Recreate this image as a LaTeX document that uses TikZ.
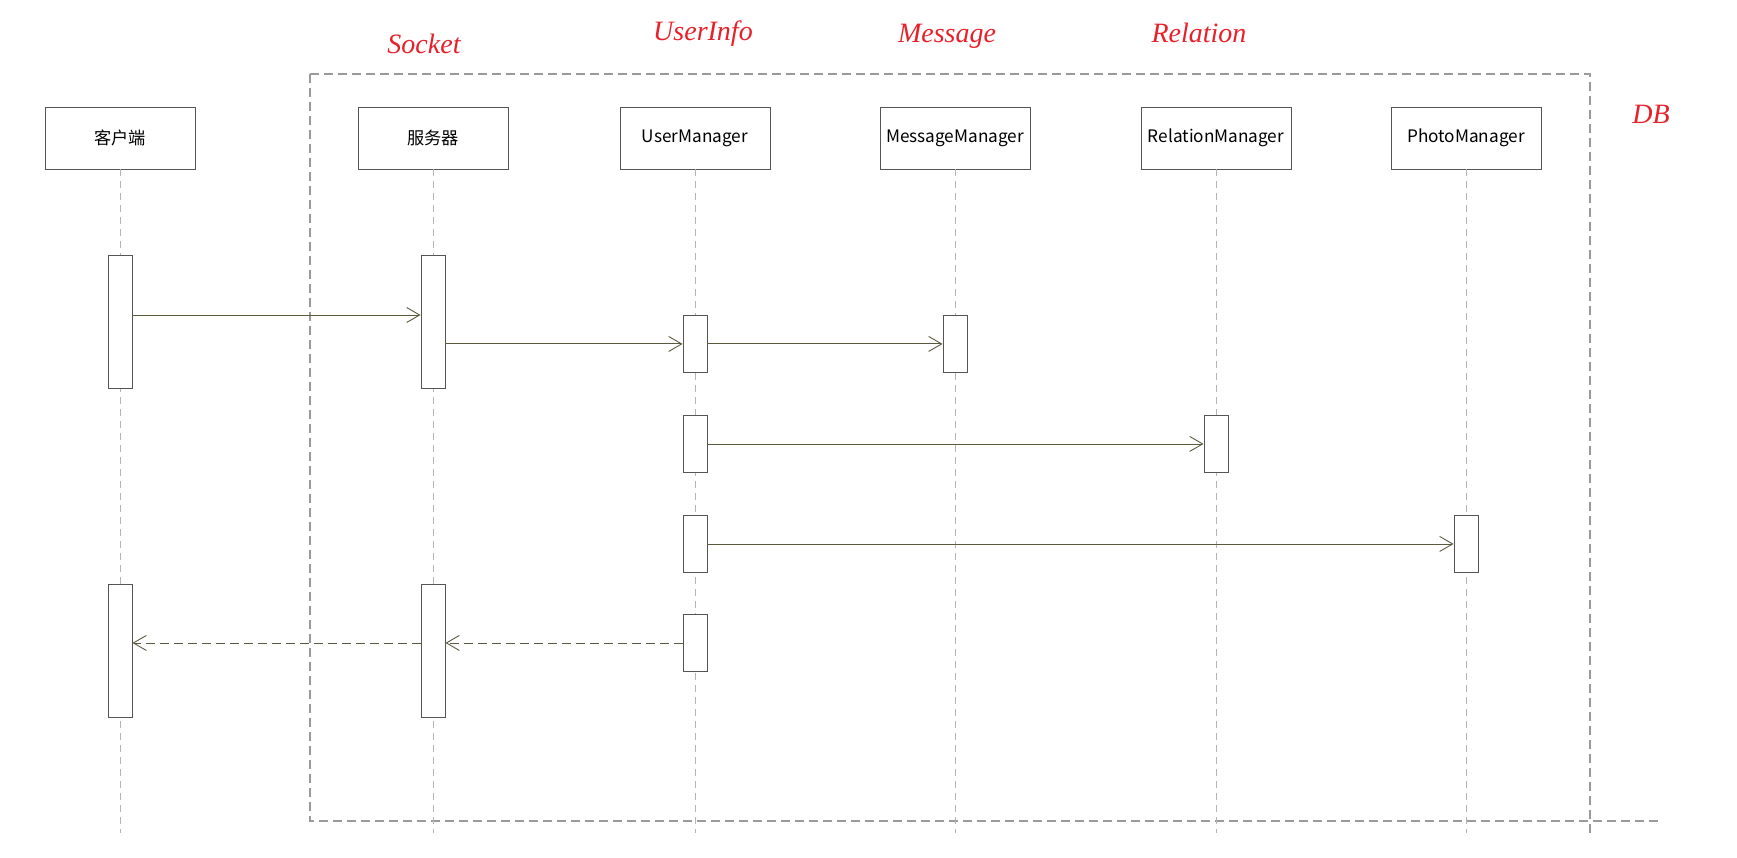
\documentclass[tikz,border=0pt]{standalone}
\usepackage{fontspec}
\setmainfont{Noto Sans CJK SC}
\newfontfamily\handfont{Liberation Serif}
\usetikzlibrary{arrows.meta}
\definecolor{boxline}{HTML}{555555}
\definecolor{arrowcol}{HTML}{5C5A3E}
\definecolor{lifecol}{HTML}{B4B4B4}
\definecolor{framecol}{HTML}{9A9A9A}
\definecolor{handred}{HTML}{E8202A}
\begin{document}
\begin{tikzpicture}[x=1pt,y=-1pt,
  header/.style={draw=boxline,line width=0.9pt,fill=white,minimum width=150pt,minimum height=62pt,inner sep=0pt,font=\fontsize{17.2}{20}\selectfont},
  act/.style={draw=boxline,line width=0.9pt,fill=white,minimum width=24pt,inner sep=0pt,anchor=north},
  life/.style={draw=lifecol,line width=0.9pt,dash pattern=on 7pt off 5pt},
  msg/.style={draw=arrowcol,line width=0.9pt,-{Straight Barb[length=13pt,width=15pt,line width=0.9pt]}},
  ret/.style={msg,dash pattern=on 9pt off 5pt},
  frame/.style={draw=framecol,line width=1.2pt,dash pattern=on 9pt off 5pt},
  hand/.style={text=handred,font=\handfont\itshape\fontsize{28}{32}\selectfont}
]
\useasboundingbox (0,0) rectangle (1737,858);

% frame
\draw[frame] (310,74) -- (1590,74) -- (1590,837);
\draw[frame] (310,74) -- (310,821) -- (1658,821);

% headers
\node[header] (hc) at (120,138) {客户端};
\node[header] (hs) at (433,138) {服务器};
\node[header] (hu) at (695,138) {UserManager};
\node[header] (hm) at (955,138) {MessageManager};
\node[header] (hr) at (1216,138) {RelationManager};
\node[header] (hp) at (1466,138) {PhotoManager};

% lifeline ends
\coordinate (ec) at (120,833);
\coordinate (es) at (433,833);
\coordinate (eu) at (695,833);
\coordinate (em) at (955,833);
\coordinate (er) at (1216,833);
\coordinate (ep) at (1466,833);
\foreach \h/\e in {hc/ec,hs/es,hu/eu,hm/em,hr/er,hp/ep}
  \draw[life] (\h.south) -- (\e);

% activation boxes
\node[act,minimum height=133pt] (c1) at (120,255) {};
\node[act,minimum height=133pt] (s1) at (433,255) {};
\node[act,minimum height=57pt] (u1) at (695,315) {};
\node[act,minimum height=57pt] (m1) at (955,315) {};
\node[act,minimum height=57pt] (u2) at (695,415) {};
\node[act,minimum height=57pt] (r1) at (1216,415) {};
\node[act,minimum height=57pt] (u3) at (695,515) {};
\node[act,minimum height=57pt] (p1) at (1466,515) {};
\node[act,minimum height=57pt] (u4) at (695,614) {};
\node[act,minimum height=133pt] (c2) at (120,584) {};
\node[act,minimum height=133pt] (s2) at (433,584) {};

% messages
\draw[msg] (c1.east |- u1.north) -- (s1.west |- u1.north);
\draw[msg] (s1.east |- u1.west) -- (u1.west);
\draw[msg] (u1.east) -- (m1.west);
\draw[msg] (u2.east) -- (r1.west);
\draw[msg] (u3.east) -- (p1.west);
\draw[ret] (u4.west) -- (s2.east |- u4.west);
\draw[ret] (s2.west |- u4.west) -- (c2.east |- u4.west);

% handwritten labels
\node[hand] (lsock) at (424,44) {Socket};
\node[hand] (luser) at (703,34) {UserInfo};
\node[hand] (lmsg) at (947,36) {Message};
\node[hand] (lrel) at (1199,33) {Relation};
\node[hand] (ldb) at (1651,114) {DB};
\end{tikzpicture}
\end{document}
